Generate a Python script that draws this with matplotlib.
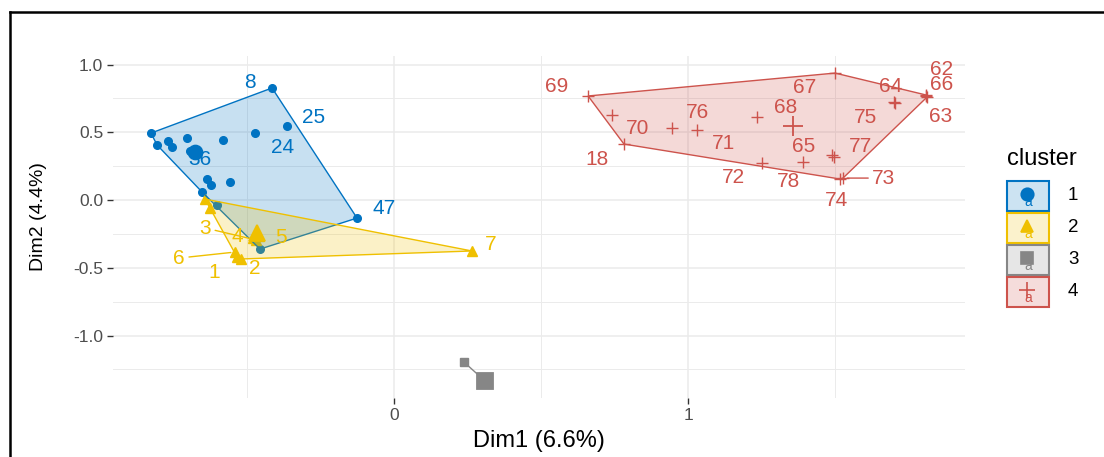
import matplotlib.pyplot as plt
from matplotlib.lines import Line2D
from matplotlib.patches import Rectangle, Polygon
from matplotlib.colors import to_rgba

plt.rcParams['font.family'] = ['Liberation Sans', 'DejaVu Sans']

W, H = 1104, 457

# cluster 1
c1_ids = [8, 25, 24, 30, 31, 32, 33, 34, 35, 36, 37, 38, 39, 40, 41, 42, 43, 47]
c1_x = [-0.415, -0.364, -0.473, -0.827, -0.806, -0.769, -0.755, -0.704, -0.582,
        -0.673, -0.694, -0.636, -0.622, -0.558, -0.653, -0.602, -0.456, -0.126]
c1_y = [0.827, 0.546, 0.494, 0.494, 0.406, 0.435, 0.391, 0.458, 0.443,
        0.339, 0.362, 0.155, 0.111, 0.133, 0.059, -0.037, -0.362, -0.133]

# cluster 2
c2_ids = [1, 2, 3, 4, 5, 6, 7, 12, 15]
c2_x = [-0.534, -0.520, -0.469, -0.480, -0.459, -0.541, 0.265, -0.643, -0.626]
c2_y = [-0.421, -0.435, -0.295, -0.280, -0.266, -0.384, -0.376, 0.007, -0.059]

# cluster 3
c3_ids = [44, 45]
c3_x = [0.238, 0.313]
c3_y = [-1.196, -1.343]

# cluster 4
c4_ids = [69, 70, 18, 76, 71, 68, 78, 72, 67, 77, 65, 74, 73, 75, 64, 62, 66, 63]
c4_x = [0.660, 0.741, 0.782, 0.946, 1.031, 1.235, 1.391, 1.252, 1.500,
        1.490, 1.497, 1.517, 1.527, 1.704, 1.701, 1.810, 1.810, 1.813]
c4_y = [0.768, 0.627, 0.413, 0.531, 0.517, 0.613, 0.280, 0.273, 0.937,
        0.332, 0.317, 0.155, 0.162, 0.716, 0.723, 0.768, 0.775, 0.760]

# cluster centres
centre_x = [-0.677, -0.466, 0.310, 1.357]
centre_y = [0.354, -0.244, -1.336, 0.546]

cluster_names = ['1', '2', '3', '4']
colors = ['#0073C2', '#EFC000', '#868686', '#CD534C']
markers = ['o', '^', 's', '+']
msize = [5.5, 6.5, 6, 8]
csize = [10, 12, 11, 15]

# label placement (pixel offsets from the point: right, down)
label_off = {
    8: (-22, -5), 25: (27, -9), 24: (28, 14), 36: (4, 5), 47: (27, -10),
    1: (-23, 15), 2: (14, 10), 3: (-51, -12), 4: (-16, -1), 5: (22, 1),
    6: (-56, 6), 7: (19, -6),
    69: (-31, -9), 70: (26, 13), 18: (-27, 15), 76: (25, -16), 71: (26, 14),
    68: (28, -9), 78: (-15, 19), 72: (-29, 14), 67: (-30, 14), 77: (28, -9),
    65: (-31, -11), 74: (-4, 21), 73: (41, 0), 75: (-30, 14), 64: (-4, -16),
    62: (15, -26), 66: (15, -11), 63: (14, 19),
}
with_segment = {3, 6, 73}


def convex_hull(xs, ys):
    pts = sorted(set(zip(xs, ys)))
    if len(pts) < 3:
        return pts

    def cross(o, a, b):
        return (a[0] - o[0]) * (b[1] - o[1]) - (a[1] - o[1]) * (b[0] - o[0])

    lower, upper = [], []
    for p in pts:
        while len(lower) >= 2 and cross(lower[-2], lower[-1], p) <= 0:
            lower.pop()
        lower.append(p)
    for p in reversed(pts):
        while len(upper) >= 2 and cross(upper[-2], upper[-1], p) <= 0:
            upper.pop()
        upper.append(p)
    return lower[:-1] + upper[:-1]


fig = plt.figure(figsize=(W / 100, H / 100), dpi=100)
ax = fig.add_axes([113 / W, 1 - 398 / H, (965 - 113) / W, (398 - 56) / H])

ax.set_xlim(-0.956, 1.942)
ax.set_ylim(-1.461, 1.063)

ax.set_xticks([0, 1])
ax.set_xticklabels(['0', '1'])
ax.set_xticks([-0.5, 0.5, 1.5], minor=True)
ax.set_yticks([-1.0, -0.5, 0.0, 0.5, 1.0])
ax.set_yticklabels(['-1.0', '-0.5', '0.0', '0.5', '1.0'])
ax.set_yticks([-1.25, -0.75, -0.25, 0.25, 0.75], minor=True)
ax.grid(which='major', color='#EBEBEB', lw=1.1)
ax.grid(which='minor', color='#EBEBEB', lw=0.7)
ax.set_axisbelow(True)
for s in ax.spines.values():
    s.set_visible(False)
ax.tick_params(which='major', length=4, width=1, color='#333333',
               labelcolor='#4D4D4D', labelsize=12.5, pad=3)
ax.tick_params(which='minor', length=0)

groups = [(c1_ids, c1_x, c1_y), (c2_ids, c2_x, c2_y),
          (c3_ids, c3_x, c3_y), (c4_ids, c4_x, c4_y)]

for k, (ids, xs, ys) in enumerate(groups):
    col = colors[k]
    ax.plot(xs, ys, ls='none', marker=markers[k], ms=msize[k], color=col,
            mew=1.0, zorder=2)
    hull = convex_hull(xs, ys)
    ax.add_patch(Polygon(hull, closed=True, facecolor=to_rgba(col, 0.22),
                         edgecolor=col, lw=1.0, zorder=3))
    for pid, x, y in zip(ids, xs, ys):
        if pid not in label_off:
            continue
        dx, dy = label_off[pid]
        arrow = None
        if pid in with_segment:
            arrow = dict(arrowstyle='-', color=col, lw=1.0, shrinkA=1, shrinkB=3)
        ax.annotate(str(pid), (x, y), xytext=(dx * 0.72, -dy * 0.72),
                    textcoords='offset points', ha='center', va='center',
                    fontsize=15, color=col, zorder=5, arrowprops=arrow)
    ax.plot([centre_x[k]], [centre_y[k]], ls='none', marker=markers[k],
            ms=csize[k], color=col, mew=1.3, zorder=4)

ax.set_xlabel('Dim1 (6.6%)', fontsize=17, color='black')
ax.xaxis.set_label_coords(0.5, -0.093)
ax.set_ylabel('Dim2 (4.4%)', fontsize=14, color='black')
ax.yaxis.set_label_coords(-0.077, 0.53)

# legend drawn by hand so the key boxes look like ggplot's
fig.text(1007 / W, 1 - 159 / H, 'cluster', fontsize=17, ha='left', va='center')
for k, name in enumerate(cluster_names):
    col = colors[k]
    top = 181 + 32 * k
    fig.add_artist(Rectangle((1007 / W, 1 - (top + 30) / H), 42 / W, 30 / H,
                             transform=fig.transFigure,
                             facecolor=to_rgba(col, 0.2), edgecolor=col, lw=1.5))
    fig.text(1028 / W, 1 - (top + 21) / H, 'a', fontsize=10, color=col,
             ha='center', va='center')
    fig.add_artist(Line2D([1027 / W], [1 - (top + 13) / H], marker=markers[k],
                          ms=9 if k != 3 else 12, color=col, mew=1.2,
                          transform=fig.transFigure))
    fig.text(1068 / W, 1 - (top + 15) / H, name, fontsize=13.5, color='black',
             ha='left', va='center')

# outer frame lines of the screenshot
fig.add_artist(Line2D([10 / W, 1], [1 - 12 / H, 1 - 12 / H], color='black',
                      lw=1.8, transform=fig.transFigure))
fig.add_artist(Line2D([10 / W, 10 / W], [0, 1 - 12 / H], color='black',
                      lw=1.8, transform=fig.transFigure))

fig.savefig('out.png', dpi=100, facecolor='white')
